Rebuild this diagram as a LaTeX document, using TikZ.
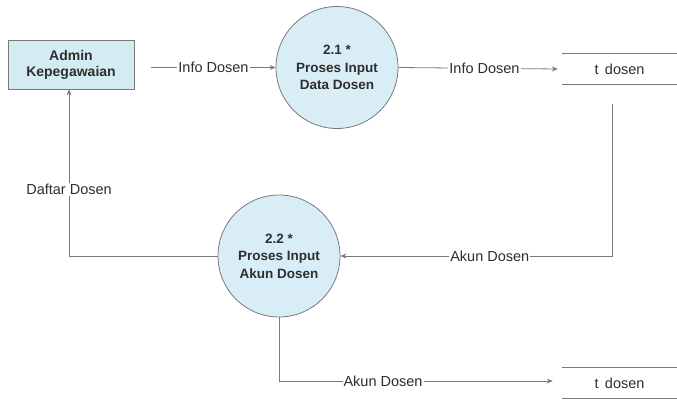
\documentclass[tikz,border=0pt]{standalone}
\usepackage{fontspec}
\setmainfont{Liberation Sans}
\usetikzlibrary{arrows.meta}
\definecolor{boxfill}{HTML}{D5EBF3}
\definecolor{circfill}{HTML}{D8EDF5}
\definecolor{edge}{HTML}{7A7A7A}
\definecolor{txt}{HTML}{2E2E2E}
\tikzset{
  entity/.style={draw=edge, fill=boxfill, line width=0.8pt, minimum width=126pt, minimum height=49pt, inner sep=0pt, align=center, text=txt, font=\fontsize{14}{16}\selectfont\bfseries},
  proc/.style={circle, draw=edge, fill=circfill, line width=0.8pt, minimum size=122pt, inner sep=0pt, align=center, text=txt, font=\fontsize{13.5}{17.5}\selectfont\bfseries},
  store/.style={minimum width=115pt, minimum height=30pt, inner sep=0pt, text=txt, font=\fontsize{14.5}{17}\selectfont},
  storeline/.style={draw=edge, line width=0.8pt},
  flow/.style={draw=edge, line width=0.8pt, -{Stealth[length=6pt,width=5pt]}},
  lbl/.style={fill=white, inner sep=1pt, text=txt, font=\fontsize{14.5}{17}\selectfont}
}
\begin{document}
\begin{tikzpicture}[x=1pt,y=-1pt]
\useasboundingbox (0,0) rectangle (677,401);
\node[entity] (admin) at (71,64.5) {Admin\\Kepegawaian};
\node[proc] (p21) at (337,67.5) {2.1 *\\Proses Input\\Data Dosen};
\node[proc] (p22) at (279,256) {2.2 *\\Proses Input\\Akun Dosen};
\node[store] (ds1) at (619.5,69) {t\, dosen};
\node[store] (ds2) at (619.5,383) {t\, dosen};
\draw[storeline] (ds1.north west) -- (ds1.north east) (ds1.south west) -- (ds1.south east);
\draw[storeline] (ds2.north west) -- (ds2.north east) (ds2.south west) -- (ds2.south east);
\coordinate (c1) at (612,104);
\draw[flow] ([xshift=17pt]admin.east |- p21.west) -- node[lbl] {Info Dosen} (p21.west);
\draw[flow] (p21.east) -- node[lbl, pos=0.54] {Info Dosen} ([xshift=-4pt]ds1.west);
\draw[flow] (c1) |- node[lbl, pos=0.725] {Akun Dosen} (p22.east);
\draw[flow] (p22.west) -| node[lbl, pos=0.70] {Daftar Dosen} ([xshift=-2pt]admin.south);
\draw[flow] (p22.south) |- node[lbl, pos=0.69] {Akun Dosen} ([xshift=-9pt,yshift=2pt]ds2.west);
\end{tikzpicture}
\end{document}
